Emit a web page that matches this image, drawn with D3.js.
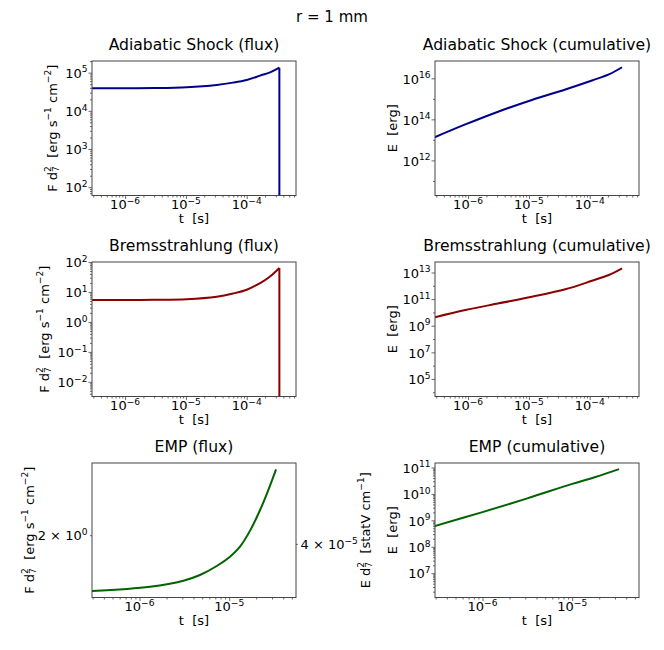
<!DOCTYPE html>
<html>
<head>
<meta charset="utf-8">
<script src="https://cdn.jsdelivr.net/npm/d3@7"></script>
<style>
  body { margin: 0; background: #fff; }
  text { font-family: "DejaVu Sans", sans-serif; fill: #000; white-space: pre; }
</style>
</head>
<body>
<svg id="fig" width="664" height="650"></svg>
<script>
// values

// Adiabatic shock flux (erg s^-1 cm^-2), last point = drop to ~0
var asFluxT = [2.86e-7, 1e-6, 3e-6, 1.03e-5, 3.2e-5, 5.96e-5, 1e-4, 1.66e-4, 2.42e-4, 3.44e-4, 3.44e-4];
var asFluxF = [3.9e4, 3.9e4, 3.95e4, 4.16e4, 4.77e4, 5.48e4, 6.44e4, 8.36e4, 1.02e5, 1.35e5, 1e-3];

// Adiabatic shock cumulative (erg)
var asCumT = [2.82e-7, 9.0e-7, 3.19e-6, 1.12e-5, 3.97e-5, 1.09e-4, 2.06e-4, 3.40e-4];
var asCumE = [1.34e13, 5.65e13, 2.43e14, 8.81e14, 2.86e15, 7.85e15, 1.54e16, 3.45e16];

// Bremsstrahlung flux
var brFluxT = [2.86e-7, 1e-6, 3e-6, 1.03e-5, 3.2e-5, 5.96e-5, 1e-4, 1.66e-4, 2.42e-4, 3.44e-4, 3.44e-4];
var brFluxF = [5.4, 5.4, 5.5, 5.75, 6.95, 8.9, 11.9, 19.6, 32.7, 62.8, 1e-5];

// Bremsstrahlung cumulative
var brCumT = [2.82e-7, 9.0e-7, 3.19e-6, 1.12e-5, 3.97e-5, 1.09e-4, 2.06e-4, 3.40e-4];
var brCumE = [4.29e9, 1.51e10, 4.83e10, 1.51e11, 5.46e11, 2.40e12, 6.46e12, 2.07e13];

// EMP flux
var empFluxT = [2.95e-7, 1.31e-6, 3.08e-6, 4.72e-6, 7.26e-6, 1.02e-5, 1.32e-5, 1.71e-5, 2.21e-5, 2.73e-5, 3.33e-5];
var empFluxF = [1.637, 1.663, 1.699, 1.734, 1.791, 1.852, 1.92, 2.033, 2.189, 2.351, 2.532];

// EMP cumulative
var empCumT = [2.83e-7, 1e-6, 3.16e-6, 1e-5, 1.78e-5, 3.33e-5];
var empCumE = [5.9e8, 2.05e9, 6.8e9, 2.4e10, 4.3e10, 8.7e10];

// tick values
var xTicksTop = [1e-6, 1e-5, 1e-4];
var xTicksBottom = [1e-6, 1e-5];
var asFluxTicks = [1e2, 1e3, 1e4, 1e5];
var asCumTicks = [1e12, 1e14, 1e16];
var brFluxTicks = [1e-2, 1e-1, 1e0, 1e1, 1e2];
var brCumTicks = [1e5, 1e7, 1e9, 1e11, 1e13];
var empFluxTicks = [2];
var empCumTicks = [1e7, 1e8, 1e9, 1e10, 1e11];
var twinTicks = [4e-5];

var svg = d3.select("#fig");
var W = 204, H = 134.5;
var tickFs = 13, labelFs = 13, titleFs = 15.6;
var spine = "#444";

// draw a string made of [text, kind, dx] parts, kind = "", "sup" or "sub"
function mathText(sel, parts, fs) {
  var off = 0;
  parts.forEach(function (p) {
    var kind = p[1] || "";
    var target = kind === "sup" ? -0.42 * fs : kind === "sub" ? 0.22 * fs : 0;
    var ts = sel.append("tspan").text(p[0]).attr("dy", target - off);
    if (kind) ts.attr("font-size", 0.7 * fs);
    if (p[2]) ts.attr("dx", p[2] * fs);
    off = target;
  });
  return sel;
}

function powParts(v) {
  var e = Math.round(Math.log10(v));
  return [["10"], [(e < 0 ? "\u2212" : "") + Math.abs(e), "sup"]];
}

function minorTicks(dom) {
  var out = [];
  var lo = Math.floor(Math.log10(dom[0])), hi = Math.ceil(Math.log10(dom[1]));
  for (var e = lo; e <= hi; e++) {
    for (var k = 2; k <= 9; k++) {
      var v = k * Math.pow(10, e);
      if (v >= dom[0] && v <= dom[1]) out.push(v);
    }
  }
  return out;
}

function oddDecades(dom, major) {
  var out = [];
  for (var e = Math.ceil(Math.log10(dom[0])); e <= Math.floor(Math.log10(dom[1])); e++) {
    var v = Math.pow(10, e);
    if (major.indexOf(v) < 0) out.push(v);
  }
  return out;
}

var dFLabel = [["F d"], ["2", "sup"], ["7", "sub", -0.445], ["  [erg s"], ["\u22121", "sup"],
  [" cm"], ["\u22122", "sup"], ["]"]];
var eLabel = [["E  [erg]"]];
var xTop = [Math.pow(10, -6.544), Math.pow(10, -3.19)];
var xBottom = [Math.pow(10, -6.53), Math.pow(10, -4.255)];

var panels = [
  { key: "a", x: 92, y: 61, title: "Adiabatic Shock (flux)", t: asFluxT, v: asFluxF, drop: true,
    color: "#00008b", xDom: xTop, xTicks: xTicksTop,
    yDom: [Math.pow(10, 1.783), Math.pow(10, 5.305)], yTicks: asFluxTicks, yMinor: "sub",
    ylabel: dFLabel, ylabelX: 56.5 },
  { key: "b", x: 435, y: 61, title: "Adiabatic Shock (cumulative)", t: asCumT, v: asCumE,
    color: "#00008b", xDom: xTop, xTicks: xTicksTop,
    yDom: [Math.pow(10, 10.29), Math.pow(10, 16.843)], yTicks: asCumTicks, yMinor: "dec",
    ylabel: eLabel, ylabelX: 397 },
  { key: "c", x: 92, y: 262, title: "Bremsstrahlung (flux)", t: brFluxT, v: brFluxF, drop: true,
    color: "#8b0000", xDom: xTop, xTicks: xTicksTop,
    yDom: [Math.pow(10, -2.49), Math.pow(10, 2.0)], yTicks: brFluxTicks, yMinor: "sub",
    ylabel: dFLabel, ylabelX: 48.5 },
  { key: "d", x: 435, y: 262, title: "Bremsstrahlung (cumulative)", t: brCumT, v: brCumE,
    color: "#8b0000", xDom: xTop, xTicks: xTicksTop,
    yDom: [Math.pow(10, 3.68), Math.pow(10, 13.79)], yTicks: brCumTicks, yMinor: "dec",
    ylabel: eLabel, ylabelX: 397 },
  { key: "e", x: 92, y: 463, title: "EMP (flux)", t: empFluxT, v: empFluxF,
    color: "#006400", xDom: xBottom, xTicks: xTicksBottom,
    yDom: [1.6, 2.59], yTicks: empFluxTicks, yMinor: "none", yFmt: "times",
    ylabel: dFLabel, ylabelX: 33.5 },
  { key: "f", x: 435, y: 463, title: "EMP (cumulative)", t: empCumT, v: empCumE,
    color: "#006400", xDom: xBottom, xTicks: xTicksBottom,
    yDom: [Math.pow(10, 6.08), Math.pow(10, 11.17)], yTicks: empCumTicks, yMinor: "sub",
    ylabel: eLabel, ylabelX: 397 }
];

function drawPanel(p) {
  var g = svg.append("g").attr("transform", "translate(" + p.x + "," + p.y + ")");
  var x = d3.scaleLog().domain(p.xDom).range([0, W]);
  var y = d3.scaleLog().domain(p.yDom).range([H, 0]);

  g.append("clipPath").attr("id", "clip-" + p.key)
    .append("rect").attr("width", W).attr("height", H);

  var pts = p.t.map(function (t, i) { return [t, p.v[i]]; });
  var main = p.drop ? pts.slice(0, -1) : pts;
  var line = d3.line()
    .x(function (d) { return x(d[0]); })
    .y(function (d) { return y(d[1]); })
    .curve(d3.curveCatmullRom.alpha(0.5));

  var plot = g.append("g").attr("clip-path", "url(#clip-" + p.key + ")");
  plot.append("path").datum(main).attr("d", line)
    .attr("fill", "none").attr("stroke", p.color).attr("stroke-width", 2);
  if (p.drop) {
    plot.append("path").datum(pts.slice(-2)).attr("d", line.curve(d3.curveLinear))
      .attr("fill", "none").attr("stroke", p.color).attr("stroke-width", 2);
  }

  // x axis ticks
  var xa = g.append("g").attr("transform", "translate(0," + H + ")").attr("color", spine);
  xa.call(d3.axisBottom(x).tickValues(p.xTicks).tickSize(3.5).tickFormat(""));
  xa.append("g").call(d3.axisBottom(x).tickValues(minorTicks(p.xDom)).tickSize(2).tickFormat(""));
  xa.selectAll(".domain").remove();
  xa.selectAll("line").attr("stroke-width", 0.8);
  p.xTicks.forEach(function (v) {
    mathText(g.append("text").attr("x", x(v)).attr("y", H + 13.5)
      .attr("text-anchor", "middle").attr("font-size", tickFs), powParts(v), tickFs);
  });

  // y axis ticks
  var ya = g.append("g").attr("color", spine);
  ya.call(d3.axisLeft(y).tickValues(p.yTicks).tickSize(p.yFmt ? 2 : 3.5).tickFormat(""));
  var ym = p.yMinor === "sub" ? minorTicks(p.yDom) : p.yMinor === "dec" ? oddDecades(p.yDom, p.yTicks) : [];
  ya.append("g").call(d3.axisLeft(y).tickValues(ym).tickSize(2).tickFormat(""));
  ya.selectAll(".domain").remove();
  ya.selectAll("line").attr("stroke-width", 0.8);
  p.yTicks.forEach(function (v) {
    var parts = p.yFmt === "times" ? [["2 \u00d7 10"], ["0", "sup"]] : powParts(v);
    mathText(g.append("text").attr("x", -4.5).attr("y", y(v) + 5.2)
      .attr("text-anchor", "end").attr("font-size", tickFs), parts, tickFs);
  });

  // spines
  g.append("rect").attr("width", W).attr("height", H)
    .attr("fill", "none").attr("stroke", spine).attr("stroke-width", 1);

  // title and labels
  g.append("text").attr("x", W / 2).attr("y", -11.5).attr("text-anchor", "middle")
    .attr("font-size", titleFs).text(p.title);
  mathText(g.append("text").attr("x", W / 2).attr("y", H + 27.5).attr("text-anchor", "middle")
    .attr("font-size", labelFs), [["t  [s]"]], labelFs);
  mathText(g.append("text")
    .attr("transform", "translate(" + (p.ylabelX - p.x) + "," + (H / 2) + ") rotate(-90)")
    .attr("text-anchor", "middle").attr("font-size", labelFs), p.ylabel, labelFs);
  return { g: g, x: x, y: y };
}

var drawn = panels.map(drawPanel);

// twin y axis on the EMP flux panel: only one tick shows
var twinDom = [3.2e-5, 5.6e-5];
var emp = drawn[4];
var ty = d3.scaleLog().domain(twinDom).range([H, 0]);
var tw = emp.g.append("g").attr("transform", "translate(" + W + ",0)").attr("color", spine);
tw.call(d3.axisRight(ty).tickValues(twinTicks).tickSize(2).tickFormat(""));
tw.selectAll(".domain").remove();
tw.selectAll("line").attr("stroke-width", 0.8);
twinTicks.forEach(function (v) {
  mathText(emp.g.append("text").attr("x", W + 4.5).attr("y", ty(v) + 5.2)
    .attr("font-size", tickFs), [["4 \u00d7 10"], ["\u22125", "sup"]], tickFs);
});
mathText(emp.g.append("text")
  .attr("transform", "translate(" + (369.5 - 92) + "," + (H / 2) + ") rotate(-90)")
  .attr("text-anchor", "middle").attr("font-size", labelFs),
  [["E d"], ["2", "sup"], ["7", "sub", -0.445], ["  [statV cm"], ["\u22121", "sup"], ["]"]], labelFs);

// figure title
svg.append("text").attr("x", 332).attr("y", 21.5).attr("text-anchor", "middle")
  .attr("font-size", 15).text("r = 1 mm");
</script>
</body>
</html>
